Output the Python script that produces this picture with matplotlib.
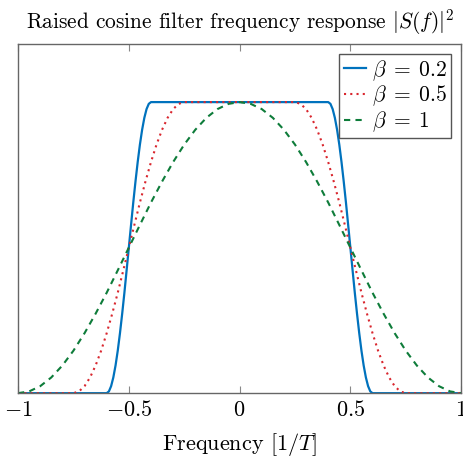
import numpy as np
import matplotlib
matplotlib.use('Agg')
import matplotlib.pyplot as plt

plt.rcParams['mathtext.fontset'] = 'cm'
plt.rcParams['font.family'] = 'serif'
plt.rcParams['font.serif'] = ['cmr10', 'DejaVu Serif']
plt.rcParams['axes.formatter.use_mathtext'] = True

# positive half of each curve, curves are symmetric
f_02 = [0, 0.1, 0.2, 0.3, 0.4, 0.41, 0.42, 0.43, 0.44, 0.45, 0.46, 0.47, 0.48, 0.49, 0.5,
        0.51, 0.52, 0.53, 0.54, 0.55, 0.56, 0.57, 0.58, 0.59, 0.6, 0.8, 1.0]
h_02 = [1, 1, 1, 1, 1, 0.994, 0.976, 0.946, 0.905, 0.854, 0.794, 0.727, 0.655, 0.578, 0.5,
        0.422, 0.345, 0.273, 0.206, 0.146, 0.095, 0.054, 0.024, 0.006, 0, 0, 0]

f_05 = [0, 0.1, 0.2, 0.25, 0.275, 0.3, 0.325, 0.35, 0.375, 0.4, 0.425, 0.45, 0.475, 0.5,
        0.525, 0.55, 0.575, 0.6, 0.625, 0.65, 0.675, 0.7, 0.725, 0.75, 0.9, 1.0]
h_05 = [1, 1, 1, 1, 0.994, 0.976, 0.946, 0.905, 0.854, 0.794, 0.727, 0.655, 0.578, 0.5,
        0.422, 0.345, 0.273, 0.206, 0.146, 0.095, 0.054, 0.024, 0.006, 0, 0, 0]

f_1 = [0, 0.05, 0.1, 0.15, 0.2, 0.25, 0.3, 0.35, 0.4, 0.45, 0.5,
       0.55, 0.6, 0.65, 0.7, 0.75, 0.8, 0.85, 0.9, 0.95, 1.0]
h_1 = [1, 0.994, 0.976, 0.946, 0.905, 0.854, 0.794, 0.727, 0.655, 0.578, 0.5,
       0.422, 0.345, 0.273, 0.206, 0.146, 0.095, 0.054, 0.024, 0.006, 0]

xticks = [-1, -0.5, 0, 0.5, 1]
xtick_labels = ['$-1$', '$-0.5$', '$0$', '$0.5$', '$1$']


def mirror(f, h):
    f = np.array(f)
    h = np.array(h)
    return np.concatenate([-f[::-1], f[1:]]), np.concatenate([h[::-1], h[1:]])


fig = plt.figure(figsize=(4.63, 4.62), dpi=100)
ax = fig.add_axes([0.039, 0.149, 0.957, 0.756])

x, y = mirror(f_02, h_02)
ax.plot(x, y, color='#0072bd', lw=1.6, label=r'$\beta\;=\;0.2$')
x, y = mirror(f_05, h_05)
ax.plot(x, y, color='#d9262e', lw=1.5, ls=(0, (1, 2)), label=r'$\beta\;=\;0.5$')
x, y = mirror(f_1, h_1)
ax.plot(x, y, color='#0e7c3a', lw=1.5, ls=(0, (3, 2.5)), label=r'$\beta\;=\;1$')

ax.set_xlim(-1, 1)
ax.set_ylim(0, 1.2)
ax.set_xticks(xticks)
ax.set_xticklabels(xtick_labels, fontsize=16)
ax.set_yticks([])
ax.tick_params(axis='x', direction='in', top=True, length=5, color='#888888', pad=5)
for s in ax.spines.values():
    s.set_color('#666666')
    s.set_linewidth(1.0)

ax.set_title(r'Raised cosine filter frequency response $|S(f)|^2$', fontsize=15.4, pad=11)
ax.set_xlabel(r'Frequency $[1/T]$', fontsize=16, labelpad=8)

leg = ax.legend(loc='upper right', fontsize=15.5, fancybox=False, framealpha=1,
                edgecolor='#555555', handlelength=1.05, handletextpad=0.25,
                borderpad=0.2, labelspacing=0.05, borderaxespad=0.45)
leg.get_frame().set_linewidth(1.0)

fig.savefig('out.png', dpi=100)
